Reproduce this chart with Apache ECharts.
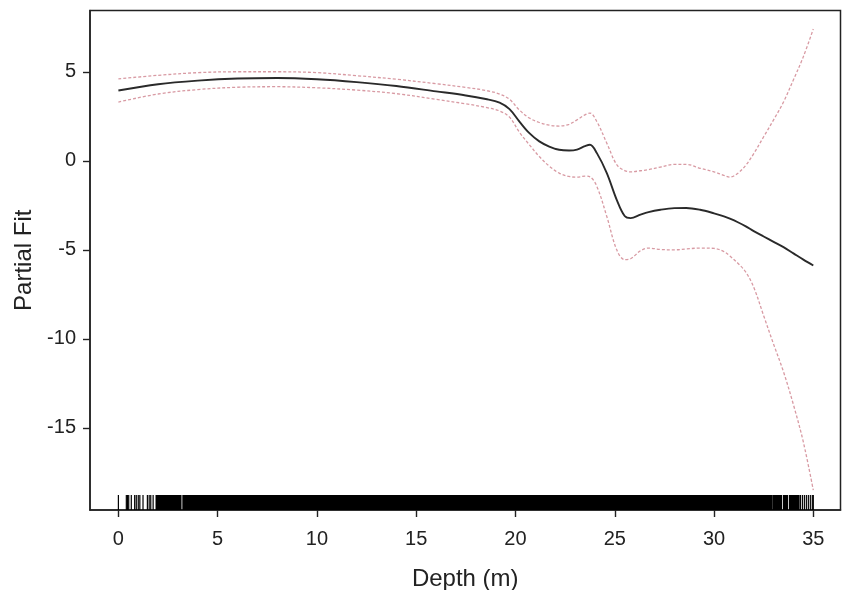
<!DOCTYPE html>
<html>
<head>
<meta charset="utf-8">
<script src="https://cdn.jsdelivr.net/npm/echarts@6/dist/echarts.min.js"></script>
<style>
  html, body { margin: 0; padding: 0; background: #fff; }
  #chart { width: 842px; height: 590px; }
</style>
</head>
<body>
<div id="chart"></div>
<script>
// Smooth term for depth: fitted partial effect with its upper/lower bands
const depth = [0, 2, 4, 6, 8, 10, 12, 14, 16, 17.5, 18.5, 19.2, 19.7, 20.2, 20.7, 21.2, 21.7, 22.2, 22.7, 23.1, 23.5, 23.75, 24.1, 24.6, 25.1, 25.5, 25.8, 26.3, 26.7, 27.3, 28, 28.6, 29.3, 30, 30.5, 30.8, 31.2, 31.6, 32, 32.5, 33, 33.5, 34, 34.5, 35];
const fit = [3.95, 4.3, 4.5, 4.62, 4.65, 4.58, 4.42, 4.2, 3.9, 3.67, 3.47, 3.27, 2.9, 2.2, 1.55, 1.09, 0.8, 0.62, 0.58, 0.63, 0.82, 0.9, 0.43, -0.69, -2.19, -3.1, -3.22, -3.02, -2.88, -2.75, -2.66, -2.65, -2.75, -2.95, -3.12, -3.25, -3.45, -3.68, -3.95, -4.25, -4.55, -4.85, -5.2, -5.55, -5.88];
const upper = [4.6, 4.8, 4.95, 5.0, 5.0, 4.95, 4.78, 4.58, 4.33, 4.12, 3.95, 3.75, 3.45, 2.85, 2.4, 2.15, 2.0, 1.95, 2.05, 2.3, 2.58, 2.68, 2.2, 0.99, -0.22, -0.55, -0.62, -0.56, -0.5, -0.35, -0.2, -0.2, -0.42, -0.62, -0.82, -0.92, -0.7, -0.25, 0.4, 1.35, 2.3, 3.3, 4.55, 5.85, 7.4];
const lower = [3.3, 3.75, 4.0, 4.13, 4.16, 4.1, 3.97, 3.77, 3.45, 3.2, 3.0, 2.8, 2.45, 1.6, 0.9, 0.24, -0.3, -0.69, -0.88, -0.92, -0.86, -0.9, -1.44, -3.13, -5.0, -5.55, -5.5, -5.05, -4.9, -4.98, -5.0, -4.95, -4.9, -4.92, -5.1, -5.35, -5.75, -6.25, -7.1, -8.7, -10.3, -11.85, -13.7, -15.8, -18.5];

// Rug of observed depths: isolated observations and runs where ticks merge
const rugSingle = [0.0, 0.4, 0.46, 0.52, 0.65, 0.82, 0.9, 1.0, 1.08, 1.24, 1.46, 1.55, 1.63, 1.75, 34.35, 34.45, 34.55, 34.65, 34.75, 34.85, 34.95, 35.0];
const rugRuns = [[1.9, 3.15], [3.25, 32.93], [33.0, 33.4], [33.5, 33.7], [33.8, 34.28]];

// Axis ranges and tick labels
const xRange = [-1.43, 36.37];
const yRange = [-19.61, 8.44];
const xTicks = [0, 5, 10, 15, 20, 25, 30, 35];
const yTicks = [-15, -10, -5, 0, 5];

const pairs = (ys) => depth.map((d, i) => [d, ys[i]]);
const rugItems = rugRuns.concat(rugSingle.map(d => [d, d]));

const font = 'Liberation Sans, Arial, Helvetica, sans-serif';
const chart = echarts.init(document.getElementById('chart'), null, { renderer: 'canvas' });

chart.setOption({
  animation: false,
  backgroundColor: '#fff',
  grid: {
    left: 90, top: 10.5, width: 750.5, height: 499.5,
    outerBoundsMode: 'none', containLabel: false,
    show: true, borderColor: '#222', borderWidth: 1.5, backgroundColor: 'transparent'
  },
  xAxis: {
    type: 'value', min: xRange[0], max: xRange[1],
    name: 'Depth (m)', nameLocation: 'middle', nameGap: 57,
    nameTextStyle: { fontFamily: font, fontSize: 24, color: '#222' },
    axisLine: { show: true, onZero: false, lineStyle: { color: '#222', width: 1.5 } },
    axisTick: { show: true, inside: false, length: 7, customValues: xTicks, lineStyle: { color: '#222', width: 1.4 } },
    axisLabel: { customValues: xTicks, margin: 19, fontFamily: font, fontSize: 20, color: '#222' },
    splitLine: { show: false }
  },
  yAxis: {
    type: 'value', min: yRange[0], max: yRange[1],
    name: 'Partial Fit', nameLocation: 'middle', nameGap: 49,
    nameTextStyle: { fontFamily: font, fontSize: 24, color: '#222' },
    axisLine: { show: true, onZero: false, lineStyle: { color: '#222', width: 1.5 } },
    axisTick: { show: true, inside: false, length: 7, customValues: yTicks, lineStyle: { color: '#222', width: 1.4 } },
    axisLabel: { customValues: yTicks, margin: 14, fontFamily: font, fontSize: 20, color: '#222' },
    splitLine: { show: false }
  },
  series: [
    {
      name: 'upper', type: 'line', data: pairs(upper), smooth: 0.35, symbol: 'none',
      lineStyle: { color: '#d89aa3', width: 1.3, type: [3, 2] }, z: 2
    },
    {
      name: 'lower', type: 'line', data: pairs(lower), smooth: 0.35, symbol: 'none',
      lineStyle: { color: '#d89aa3', width: 1.3, type: [3, 2] }, z: 2
    },
    {
      name: 'fit', type: 'line', data: pairs(fit), smooth: 0.35, symbol: 'none',
      lineStyle: { color: '#2a2a2a', width: 1.9 }, z: 3
    },
    {
      name: 'rug', type: 'custom', data: rugItems, z: 4, clip: true,
      renderItem: function (params, api) {
        const a = api.coord([api.value(0), yRange[0]]);
        const b = api.coord([api.value(1), yRange[0]]);
        const h = 15;
        return {
          type: 'rect',
          shape: { x: a[0] - 0.6, y: a[1] - h, width: Math.max(1.2, b[0] - a[0] + 1.2), height: h },
          style: { fill: '#000' }
        };
      }
    }
  ]
});
</script>
</body>
</html>
